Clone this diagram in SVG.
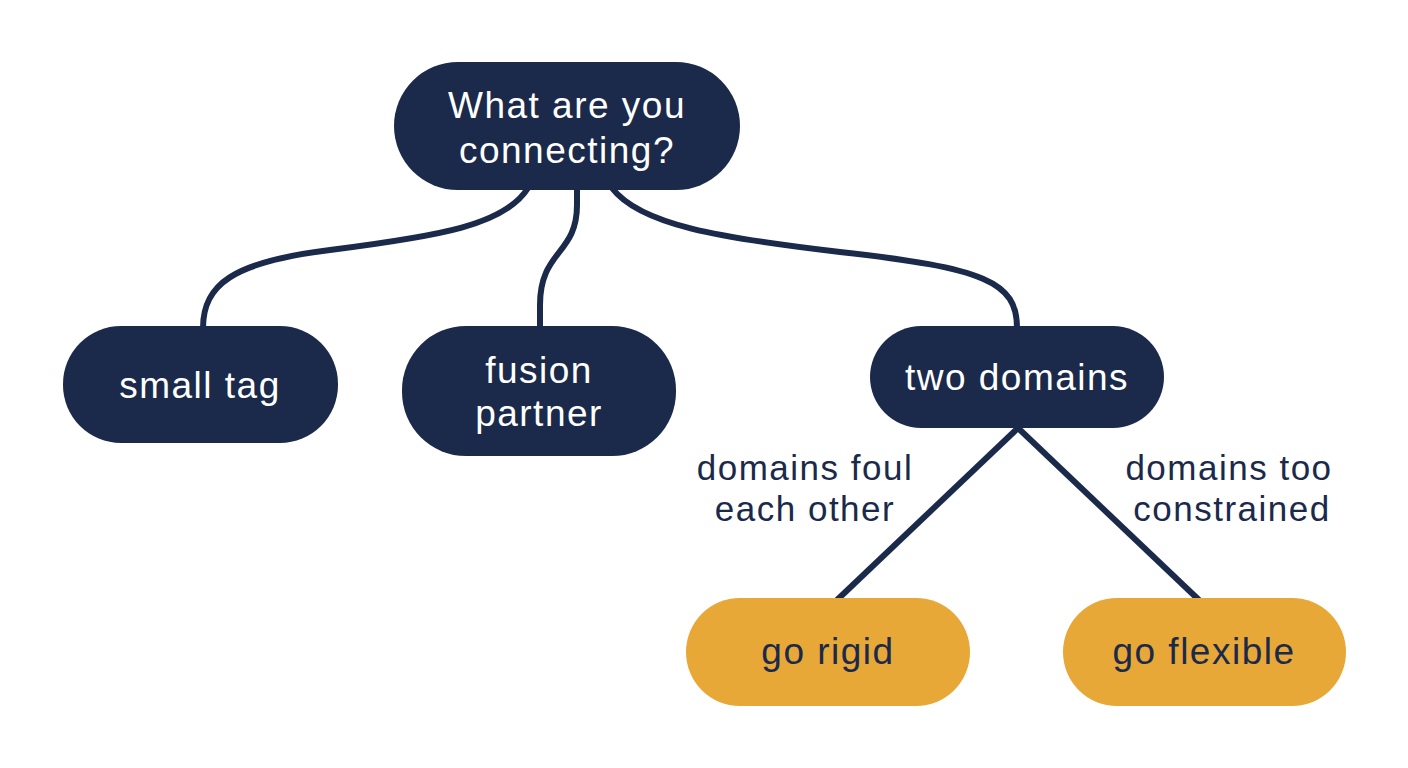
<svg xmlns="http://www.w3.org/2000/svg" width="1408" height="768" viewBox="0 0 1408 768">
<style>
.dark{fill:#1B2A4A}
.gold{fill:#E8A838}
.lt{font-family:"Liberation Sans",Arial,sans-serif;font-size:37px;letter-spacing:1.5px;fill:#FFFFFF;text-anchor:middle}
.dt{font-family:"Liberation Sans",Arial,sans-serif;font-size:37px;letter-spacing:1.5px;fill:#1B2A4A;text-anchor:middle}
.lbl{font-family:"Liberation Sans",Arial,sans-serif;font-size:35px;letter-spacing:1.5px;fill:#1B2A4A;text-anchor:middle}
.edge{fill:none;stroke:#1B2A4A;stroke-width:6;stroke-linecap:butt}
</style>
<rect width="1408" height="768" fill="#FFFFFF"/>
<g id="connectors">
<path class="edge" d="M528,188 C505,225 440,236 330,250 C232,262 203,285 203,328"/>
<path class="edge" d="M577,188 L577,205 C577,255 540,250 540,305 L540,328"/>
<path class="edge" d="M612,188 C640,225 720,238 840,252 C985,268 1017,282 1017,328"/>
<path class="edge" d="M1018,428 L837,600"/>
<path class="edge" d="M1018,428 L1199,600"/>
</g>
<g id="n-root">
<rect class="dark" x="394" y="62" width="346" height="128" rx="64"/>
<text class="lt"><tspan x="567" y="118">What are you</tspan><tspan x="567" y="163">connecting?</tspan></text>
</g>
<g id="n-small-tag">
<rect class="dark" x="63" y="326" width="275" height="117" rx="58"/>
<text class="lt" x="200" y="398">small tag</text>
</g>
<g id="n-fusion">
<rect class="dark" x="402" y="326" width="274" height="130" rx="64"/>
<text class="lt"><tspan x="539" y="383">fusion</tspan><tspan x="539" y="426">partner</tspan></text>
</g>
<g id="n-two-domains">
<rect class="dark" x="870" y="326" width="294" height="102" rx="51"/>
<text class="lt" x="1017" y="390">two domains</text>
</g>
<g id="n-rigid">
<rect class="gold" x="686" y="598" width="284" height="108" rx="54"/>
<text class="dt" x="828" y="664">go rigid</text>
</g>
<g id="n-flexible">
<rect class="gold" x="1063" y="598" width="283" height="108" rx="54"/>
<text class="dt" x="1204" y="664">go flexible</text>
</g>
<g id="edge-labels">
<text class="lbl"><tspan x="805" y="480">domains foul</tspan><tspan x="805" y="521">each other</tspan></text>
<text class="lbl"><tspan x="1229" y="480">domains too</tspan><tspan x="1232" y="521">constrained</tspan></text>
</g>
</svg>
